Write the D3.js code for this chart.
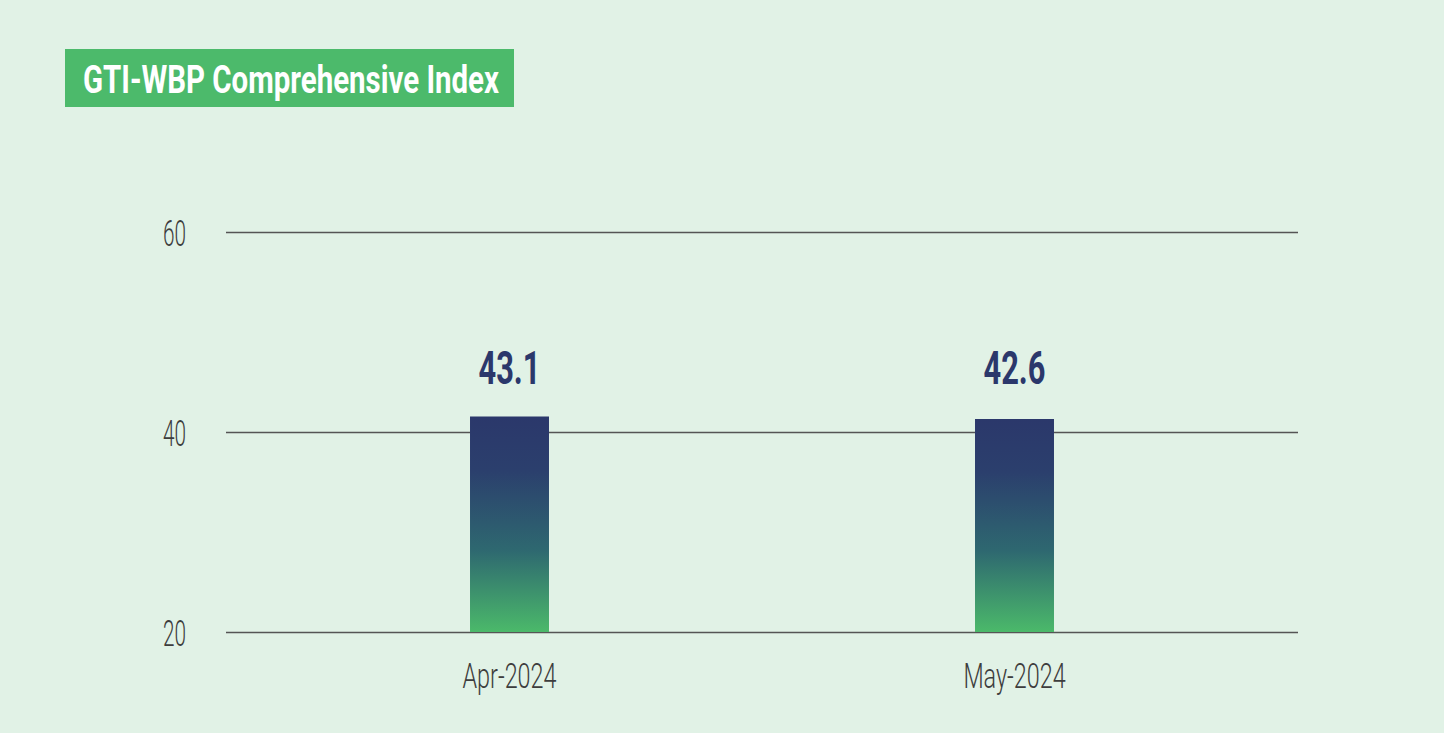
<!DOCTYPE html>
<html>
<head>
<meta charset="utf-8">
<script src="https://cdn.jsdelivr.net/npm/d3@7/dist/d3.min.js"></script>
<style>
  html, body { margin: 0; padding: 0; background: #e1f2e6; }
  svg { display: block; }
</style>
</head>
<body>
<svg id="chart" width="1444" height="733"></svg>
<script>
// ---- data ----
const categories = ["Apr-2024", "May-2024"];
const values = [43.1, 42.6];
const yTicks = [20, 40, 60];
const title = "GTI-WBP Comprehensive Index";

// ---- layout ----
const W = 1444, H = 733;
const plot = { left: 226, right: 1298, top: 232, bottom: 632 };

const svg = d3.select("#chart");
svg.append("rect").attr("width", W).attr("height", H).attr("fill", "#e1f2e6");

// horizontally condense a text selection so the first item reaches a target width
function condense(sel, firstWidth) {
  const nodes = sel.nodes();
  if (!nodes.length) return;
  const k = firstWidth / nodes[0].getComputedTextLength();
  nodes.forEach(n => {
    const w = n.getComputedTextLength();
    d3.select(n).attr("textLength", w * k).attr("lengthAdjust", "spacingAndGlyphs");
  });
}

// gradient for bars
const defs = svg.append("defs");
const grad = defs.append("linearGradient").attr("id", "barGrad")
  .attr("x1", 0).attr("y1", 0).attr("x2", 0).attr("y2", 1);
[["0%", "#2b386b"], ["25%", "#2b3f6d"], ["62%", "#2e6870"], ["100%", "#4bb96a"]]
  .forEach(([o, c]) => grad.append("stop").attr("offset", o).attr("stop-color", c));

// title box
const titleG = svg.append("g");
titleG.append("rect").attr("x", 65).attr("y", 49).attr("width", 449).attr("height", 58).attr("fill", "#4cba6b");
titleG.append("text")
  .attr("x", 83).attr("y", 93)
  .attr("font-family", "Roboto, 'Liberation Sans Narrow', sans-serif")
  .attr("font-weight", 700)
  .attr("font-size", 39)
  .attr("fill", "#ffffff")
  .attr("textLength", 416).attr("lengthAdjust", "spacingAndGlyphs")
  .text(title);

// scales
const y = d3.scaleLinear().domain([20, 60]).range([plot.bottom, plot.top]);
// bars are drawn on a zero-based scale (5 px per unit)
const yBar = d3.scaleLinear().domain([0, 80]).range([plot.bottom, plot.top]);
const x = d3.scaleBand().domain(categories).range([plot.left, plot.right])
  .paddingInner(0.8436).paddingOuter(0.4832);

// gridlines + y axis labels
const yAxis = d3.axisLeft(y).tickValues(yTicks).tickSize(-(plot.right - plot.left)).tickPadding(40);
const gy = svg.append("g").attr("transform", `translate(${plot.left},0)`).call(yAxis);
gy.select(".domain").remove();
gy.selectAll(".tick line").attr("stroke", "#555555").attr("stroke-width", 1.6);
gy.selectAll(".tick text")
  .attr("font-family", "Roboto, sans-serif")
  .attr("font-weight", 300)
  .attr("font-size", 37)
  .attr("fill", "#3d3d3d")
  .attr("dy", "0.36em")
  .attr("textLength", 23).attr("lengthAdjust", "spacingAndGlyphs");

// bars
svg.append("g").selectAll("rect").data(values).join("rect")
  .attr("x", (d, i) => x(categories[i]))
  .attr("width", x.bandwidth())
  .attr("y", d => yBar(d))
  .attr("height", d => yBar(0) - yBar(d))
  .attr("fill", "url(#barGrad)");

// value labels
const vl = svg.append("g").selectAll("text").data(values).join("text")
  .attr("x", (d, i) => x(categories[i]) + x.bandwidth() / 2)
  .attr("y", yBar(d3.max(values)) - 33)
  .attr("text-anchor", "middle")
  .attr("font-family", "Roboto, sans-serif")
  .attr("font-weight", 700)
  .attr("font-size", 46)
  .attr("fill", "#2b386b")
  .text(d => d.toFixed(1));
condense(vl, 62);

// x axis labels
const xAxis = d3.axisBottom(x).tickSize(0).tickPadding(0);
const gx = svg.append("g").attr("transform", `translate(0,${plot.bottom})`).call(xAxis);
gx.select(".domain").remove();
const xt = gx.selectAll(".tick text")
  .attr("y", 56).attr("dy", 0)
  .attr("font-family", "Roboto, sans-serif")
  .attr("font-weight", 300)
  .attr("font-size", 35)
  .attr("fill", "#3d3d3d");
condense(xt, 94);
</script>
</body>
</html>
